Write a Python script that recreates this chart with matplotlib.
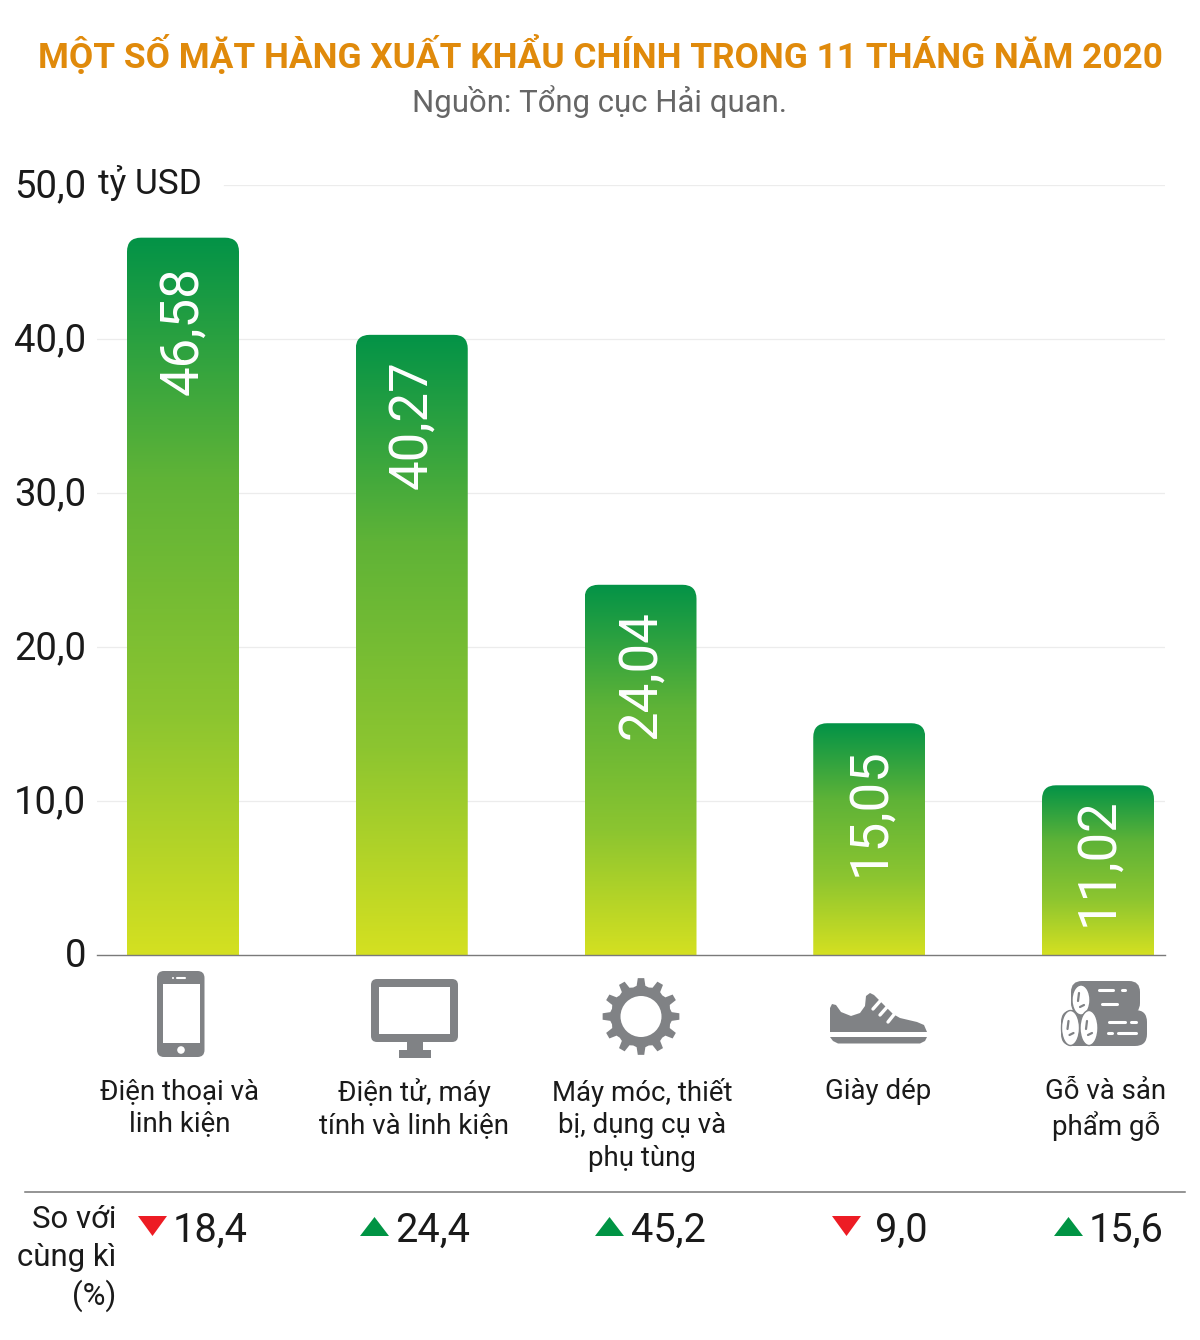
import numpy as np
import matplotlib
matplotlib.use("Agg")
import matplotlib.pyplot as plt
from matplotlib.colors import LinearSegmentedColormap
from matplotlib.path import Path
from matplotlib.patches import PathPatch, Rectangle, Circle, Ellipse, Polygon, FancyBboxPatch
from matplotlib.transforms import ScaledTranslation

plt.rcParams['font.family'] = ['Roboto', 'DejaVu Sans']

TITLE = "MỘT SỐ MẶT HÀNG XUẤT KHẨU CHÍNH TRONG 11 THÁNG NĂM 2020"
SOURCE = "Nguồn: Tổng cục Hải quan."
categories = ["Điện thoại và\nlinh kiện", "Điện tử, máy\ntính và linh kiện",
              "Máy móc, thiết\nbị, dụng cụ và\nphụ tùng", "Giày dép", "Gỗ và sản\nphẩm gỗ"]
exports = [46.58, 40.27, 24.04, 15.05, 11.02]
change = [-18.4, 24.4, 45.2, -9.0, 15.6]
yticks = [0, 10, 20, 30, 40, 50]
ylabels = ["0", "10,0", "20,0", "30,0", "40,0", "50,0"]

W, H = 1200, 1340
fig = plt.figure(figsize=(W/100, H/100), dpi=100, facecolor='white')

# main axes
L, R, T, B = 97, 1165, 185, 955
ax = fig.add_axes([L/W, 1-B/H, (R-L)/W, (B-T)/H])
step = 228.75
first = 183
ax.set_xlim((L-first)/step, (R-first)/step)
ax.set_ylim(0, 50)
for s in ['top', 'left', 'right']:
    ax.spines[s].set_visible(False)
ax.spines['bottom'].set_color('#7a7a7a')
ax.spines['bottom'].set_linewidth(1.0)
ax.set_xticks([])
ax.set_yticks(yticks, ylabels)
ax.tick_params(axis='y', length=0, pad=7.7, labelsize=27.5, labelcolor='#1a1a1a')
for lab in ax.get_yticklabels():
    lab.set_transform(lab.get_transform() + ScaledTranslation(0, 2.5/100, fig.dpi_scale_trans))
for y in yticks[1:]:
    # the top gridline starts after the unit label
    xmin = (224-L)/(R-L) if y == yticks[-1] else 0
    ax.axhline(y, xmin=xmin, color='#ececec', lw=0.9, zorder=0)

cmap = LinearSegmentedColormap.from_list('g', ['#d4e021', '#8cc530', '#5fb337', '#039347'])
grad = np.linspace(1, 0, 256)[:, None]
bw = 112/step
rx, ry = 14/step, 14/((B-T)/50)
label_drop_px = [92.5, 90, 90, 88, 76]
for i, v in enumerate(exports):
    im = ax.imshow(grad, cmap=cmap, aspect='auto', extent=(i-bw/2, i+bw/2, 0, v), zorder=2)
    verts = [(i-bw/2, 0), (i-bw/2, v-ry), (i-bw/2, v), (i-bw/2+rx, v), (i+bw/2-rx, v),
             (i+bw/2, v), (i+bw/2, v-ry), (i+bw/2, 0), (i-bw/2, 0)]
    codes = [Path.MOVETO, Path.LINETO, Path.CURVE3, Path.CURVE3, Path.LINETO,
             Path.CURVE3, Path.CURVE3, Path.LINETO, Path.CLOSEPOLY]
    im.set_clip_path(PathPatch(Path(verts, codes), transform=ax.transData))
    ax.annotate(f"{v:.2f}".replace('.', ','), xy=(i, v), xytext=(0, -label_drop_px[i]*0.72),
                textcoords='offset points', rotation=90, ha='center', va='center',
                color='white', fontsize=38, zorder=3)
ax.set_xlim((L-first)/step, (R-first)/step)
ax.set_ylim(0, 50)

# overlay in pixel coordinates
ov = fig.add_axes([0, 0, 1, 1], facecolor='none')
ov.set_xlim(0, W)
ov.set_ylim(H, 0)
ov.axis('off')

ov.text(600, 55, TITLE, ha='center', va='center', color='#e08a0b', fontsize=25.4, fontweight='bold')
ov.text(600, 102, SOURCE, ha='center', va='center', color='#666666', fontsize=22.4)
ov.text(98, 183, "tỷ USD", ha='left', va='center', color='#1a1a1a', fontsize=25.4)

label_x = [180, 414, 642, 878, 1106]
for x, c in zip(label_x, categories):
    ov.text(x, 1078, c, ha='center', va='top', color='#1a1a1a', fontsize=19.9, linespacing=1.25)

ov.plot([25, 1185], [1192, 1192], color='#777777', lw=1.1)
for y, t in zip([1220, 1258, 1296], ["So với", "cùng kì", "(%)"]):
    ov.text(116, y, t, ha='right', va='center', color='#1a1a1a', fontsize=22.4)

value_x = [210, 432.5, 668.5, 901, 1126]
tri_left = [138, 360, 595, 832, 1054]
for vx, tx, c in zip(value_x, tri_left, change):
    ov.text(vx, 1230, f"{abs(c):.1f}".replace('.', ','), ha='center', va='center', color='#1a1a1a', fontsize=28.6)
    if c < 0:
        pts = [(tx, 1216), (tx+29, 1216), (tx+14.5, 1236)]
        col = '#ed1c24'
    else:
        pts = [(tx, 1236), (tx+29, 1236), (tx+14.5, 1217)]
        col = '#009444'
    ov.add_patch(Polygon(pts, closed=True, fc=col, ec='none'))

# icons
G = '#808285'
def rrect(x0, y0, x1, y1, r, fc=G):
    ov.add_patch(FancyBboxPatch((x0+r, y0+r), x1-x0-2*r, y1-y0-2*r,
                                boxstyle=f"round,pad={r},rounding_size={r}", fc=fc, ec='none'))
def rect(x0, y0, x1, y1, fc=G):
    ov.add_patch(Rectangle((x0, y0), x1-x0, y1-y0, fc=fc, ec='none'))
def wline(x0, y0, x1, y1, lw=2.2, col='white'):
    ov.plot([x0, x1], [y0, y1], color=col, lw=lw, solid_capstyle='round')

# phone
rrect(157, 971, 204.5, 1057, 7)
rect(162.5, 984, 200, 1043, 'white')
ov.add_patch(Circle((181, 1050), 3.8, fc='white', ec='none'))
wline(177, 978, 185, 978, 1.5)
ov.add_patch(Circle((173, 978), 1, fc='white', ec='none'))

# monitor
rrect(371, 979, 458, 1042, 6)
rect(379, 987, 450, 1034, 'white')
rect(407, 1042, 423, 1051, G)
rect(399, 1050, 431, 1058, G)

# gear
cx, cy = 641, 1016.5
pts = []
n = 12
for k in range(n):
    a = 2*np.pi*k/n - np.pi/2
    d = 2*np.pi/n
    for da, r in [(-0.5, 30), (-0.27, 31), (-0.16, 38.5), (0.16, 38.5), (0.27, 31), (0.5, 30)]:
        pts.append((cx + r*np.cos(a+da*d), cy + r*np.sin(a+da*d)))
ov.add_patch(Polygon(pts, closed=True, fc=G, ec='none'))
ov.add_patch(Circle((cx, cy), 20.5, fc='white', ec='none'))

# shoe
shoe = [(830, 1032), (830, 1008), (832, 1004), (836, 1005), (841, 1012), (851, 1016), (860, 1013),
        (865, 1006), (866, 996), (870, 993), (874, 995), (881, 1002), (893, 1014), (900, 1018),
        (917, 1022), (924, 1025), (927, 1032)]
ov.add_patch(Polygon(shoe, closed=True, fc=G, ec='none'))
ov.add_patch(Polygon([(830, 1037), (927, 1037), (925, 1041), (920, 1043.5), (838, 1043.5), (833, 1041)],
                     closed=True, fc=G, ec='none'))
wline(873, 1009, 881, 1000, 2.4)
wline(880, 1015, 888, 1006, 2.4)
wline(888, 1022, 896, 1012, 2.4)

# logs
rrect(1071, 981, 1140, 1014, 11)
rrect(1061, 1010, 1147, 1046, 12)
ov.add_patch(Ellipse((1081, 1000), 18, 30, fc='white', ec=G, lw=1))
ov.add_patch(Ellipse((1070.5, 1028), 18, 35, fc='white', ec=G, lw=1))
ov.add_patch(Ellipse((1089, 1028), 18, 35, fc='white', ec=G, lw=1))
for (ex, ey) in [(1081, 1000), (1070.5, 1028), (1089, 1028)]:
    wline(ex-2, ey-7, ex-3, ey+1, 1.6, G)
    wline(ex+3, ey+5, ex-1, ey+7, 1.6, G)
for x0, x1, y in [(1099, 1113, 990), (1122, 1125, 990), (1102, 1117, 1004),
                  (1109, 1125, 1022), (1131, 1136, 1022), (1108, 1112, 1033), (1118, 1136, 1033)]:
    wline(x0, y, x1, y, 2.2)

fig.savefig('out.png', dpi=100, facecolor='white')
